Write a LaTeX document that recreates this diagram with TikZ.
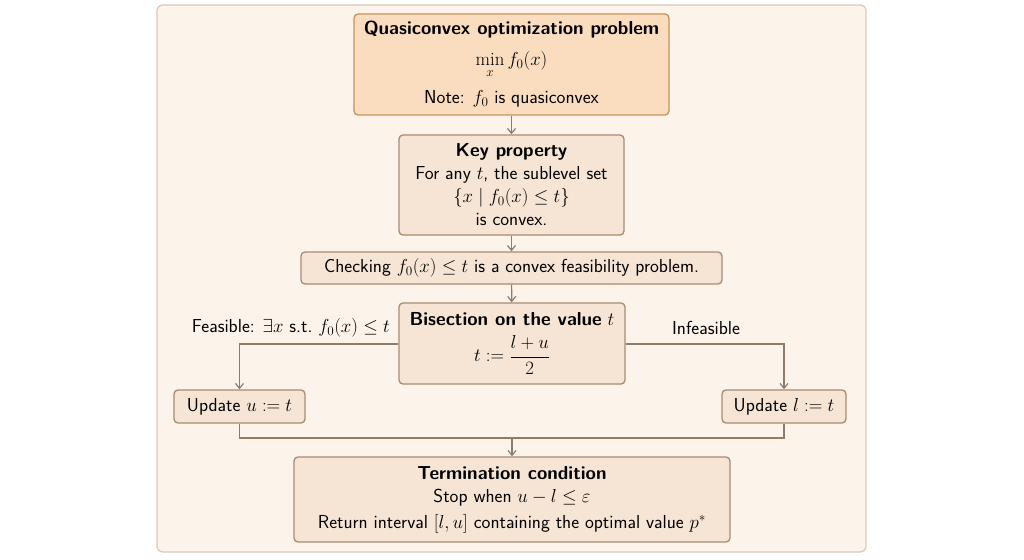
\RequirePackage{fix-cm}
\documentclass[tikz,border=0pt]{standalone}
\usepackage{fontspec}
\usepackage{amsmath}
\usetikzlibrary{arrows.meta}
\definecolor{outerfill}{HTML}{FCF3EA}
\definecolor{outerdraw}{HTML}{D9C9B9}
\definecolor{topfill}{HTML}{FADDBF}
\definecolor{topdraw}{HTML}{C8925C}
\definecolor{boxfill}{HTML}{F6E5D4}
\definecolor{boxdraw}{HTML}{A88B70}
\definecolor{linecol}{HTML}{8E7C6C}
\tikzset{
  base/.style={rounded corners=4pt, line width=1.3pt, align=center, inner sep=0pt,
    font=\sffamily\fontsize{18.8}{23}\selectfont, text=black},
  topbox/.style={base, fill=topfill, draw=topdraw},
  box/.style={base, fill=boxfill, draw=boxdraw},
  conn/.style={draw=linecol, line width=1.2pt, -{Straight Barb[length=5pt,width=8pt]}},
  plain/.style={draw=linecol, line width=1.2pt},
  lab/.style={font=\sffamily\fontsize{18.8}{23}\selectfont, inner sep=0pt}
}
\begin{document}
\begin{tikzpicture}[x=1pt,y=-1pt]
\useasboundingbox (0,0) rectangle (1024,559);
\fill[white] (0,0) rectangle (1024,559);
\draw[rounded corners=6pt, fill=outerfill, draw=outerdraw, line width=1.2pt] (157,5) rectangle (866,552);

\node[topbox, minimum width=315pt, minimum height=101pt] (top) at (511.5,64.5)
  {\textbf{Quasiconvex optimization problem}\\[8pt]
   $\displaystyle\min_x f_0(x)$\\[12pt]
   Note: $f_0$ is quasiconvex};
\node[box, minimum width=225pt, minimum height=100pt] (key) at (511.5,185)
  {\textbf{Key property}\\
   For any $t$, the sublevel set\\
   $\{x \mid f_0(x) \le t\}$\\
   is convex.};
\node[box, minimum width=421pt, minimum height=32pt] (check) at (511.5,268)
  {Checking $f_0(x) \le t$ is a convex feasibility problem.};
\node[box, minimum width=226pt, minimum height=81pt] (bis) at (512,343.5)
  {\textbf{Bisection on the value} $t$\\[9pt]
   $t := \dfrac{l+u}{2}$};
\node[box, minimum width=131pt, minimum height=33pt] (updu) at (239.5,406.5)
  {Update $u := t$};
\node[box, minimum width=124pt, minimum height=33pt] (updl) at (784,406.5)
  {Update $l := t$};
\node[box, minimum width=436pt, minimum height=85pt] (term) at (512,499.5)
  {\textbf{Termination condition}\\
   Stop when $u - l \le \varepsilon$\\[3pt]
   Return interval $[l,u]$ containing the optimal value $p^{*}$};

\coordinate (merge) at (512,438);

\draw[conn] (top) -- (key);
\draw[conn] (key) -- (check);
\draw[conn] (check) -- (bis);
\draw[conn] (bis.west |- 0,344) -| (updu.north);
\draw[conn] (bis.east |- 0,344) -| (updl.north);
\draw[plain] (updu.south) |- (merge);
\draw[plain] (updl.south) |- (merge);
\draw[conn] (merge) -- (term.north);

\node[lab, anchor=east] (feas) at (390,328) {Feasible: $\exists x$ s.t.\ $f_0(x) \le t$};
\node[lab] (infeas) at (706,328) {Infeasible};
\end{tikzpicture}
\end{document}
